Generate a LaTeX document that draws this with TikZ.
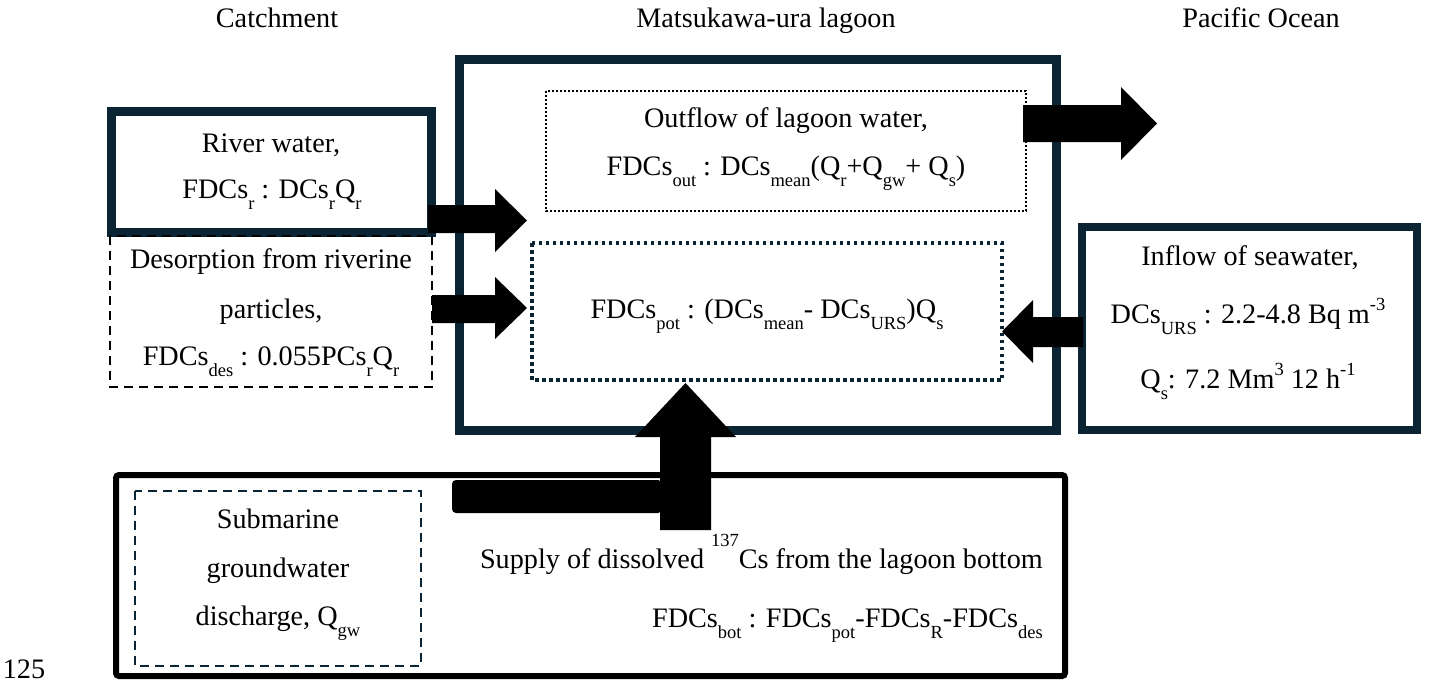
\documentclass[tikz,border=0pt]{standalone}
\usepackage{fontspec}
\setmainfont{Liberation Serif}
\definecolor{navy}{HTML}{0B2434}
% lowered / raised indices in the running text size
\newcommand\lo[1]{\raisebox{-11pt}{\fontsize{18.5}{18.5}\selectfont #1}}
\newcommand\hi[2][13pt]{\raisebox{#1}{\fontsize{18.5}{18.5}\selectfont #2}}
\begin{document}
\begin{tikzpicture}[x=1pt,y=-1pt,
  every node/.style={font=\fontsize{28.2}{33}\selectfont, inner sep=0pt},
  lbl/.style={anchor=base},
  lblr/.style={anchor=base east},
  heavybox/.style={draw=navy, line width=9pt},
  seabox/.style={draw=navy, line width=8pt},
  groundbox/.style={draw=black, line width=6pt, rounded corners=3pt},
  dashbox/.style={draw=black, line width=2pt, dash pattern=on 9pt off 6pt},
  navydash/.style={draw=navy, line width=2pt, dash pattern=on 9pt off 6pt},
  finedot/.style={draw=black, line width=2pt, dash pattern=on 2pt off 2pt},
  heavydot/.style={draw=navy, line width=3.5pt, dash pattern=on 3.5pt off 3.5pt},
  blockarrow/.style={fill=black}]
\useasboundingbox (0,0) rectangle (1430,683);

% region headings
\node[lbl] (catch) at (277,27) {Catchment};
\node[lbl] (lag) at (766,27) {Matsukawa-ura lagoon};
\node[lbl] (pac) at (1261,27) {Pacific Ocean};

% frames
\draw[heavybox] (459,59) rectangle (1056,430);
\draw[heavybox] (111,111) rectangle (431,232);
\draw[dashbox] (110,236) rectangle (432,387);
\draw[finedot] (546,91) rectangle (1026,211);
\draw[heavydot] (532,243) rectangle (1002,380);
\draw[seabox] (1082,227) rectangle (1417,430);
\draw[groundbox] (116,475) rectangle (1065,676);
\draw[navydash] (135,491) rectangle (421,666);

% river water
\node[lbl] (r1) at (271,152) {River water,};
\node[lbl] (r2) at (272,198) {FDCs\lo{r} : DCs\lo{r}Q\lo{r}};

% desorption
\node[lbl] (d1) at (271,268) {Desorption from riverine};
\node[lbl] (d2) at (271,318) {particles,};
\node[lbl] (d3) at (271,365) {FDCs\lo{des} : 0.055PCs\lo{r}Q\lo{r}};

% lagoon outflow and potential flux
\node[lbl] (o1) at (786,127) {Outflow of lagoon water,};
\node[lbl] (o2) at (786,175) {FDCs\lo{out} : DCs\lo{mean}(Q\lo{r}+Q\lo{gw}+ Q\lo{s})};
\node[lbl] (p1) at (767,318) {FDCs\lo{pot} : (DCs\lo{mean}- DCs\lo{URS})Q\lo{s}};

% seawater
\node[lbl] (s1) at (1250,265) {Inflow of seawater,};
\node[lbl] (s2) at (1248,323) {DCs\lo{URS} : 2.2-4.8 Bq m\hi{-3}};
\node[lbl] (s3) at (1248,388) {Q\lo{s}: 7.2 Mm\hi{3} 12 h\hi{-1}};

% groundwater and bottom supply
\node[lbl] (g1) at (278,528) {Submarine};
\node[lbl] (g2) at (278,577) {groundwater};
\node[lbl] (g3) at (278,625) {discharge, Q\lo{gw}};
\node[lblr] (b1) at (1043,568) {Supply of dissolved \hi[22pt]{137}Cs from the lagoon bottom};
\node[lblr] (b2) at (1043,627) {FDCs\lo{bot} : FDCs\lo{pot}-FDCs\lo{R}-FDCs\lo{des}};

\node[lbl] (num) at (24,678) {125};

% block arrows
\fill[blockarrow] (428,205) -- (495,205) -- (495,189) -- (527,220.5) -- (495,252) -- (495,233) -- (428,233) -- cycle;
\fill[blockarrow] (432,295) -- (495,295) -- (495,277) -- (527,308) -- (495,339) -- (495,323) -- (432,323) -- cycle;
\fill[blockarrow] (1023,105) -- (1121,105) -- (1121,87) -- (1157,123.5) -- (1121,160) -- (1121,142) -- (1023,142) -- cycle;
\fill[blockarrow] (1083,317) -- (1033,317) -- (1033,300) -- (1002,331.5) -- (1033,363) -- (1033,347) -- (1083,347) -- cycle;
\fill[blockarrow, rounded corners=4pt] (452,480) rectangle (662,513);
\fill[blockarrow] (660,530) -- (660,437) -- (635,437) -- (685.5,383) -- (736,437) -- (711,437) -- (711,530) -- cycle;
\end{tikzpicture}
\end{document}
